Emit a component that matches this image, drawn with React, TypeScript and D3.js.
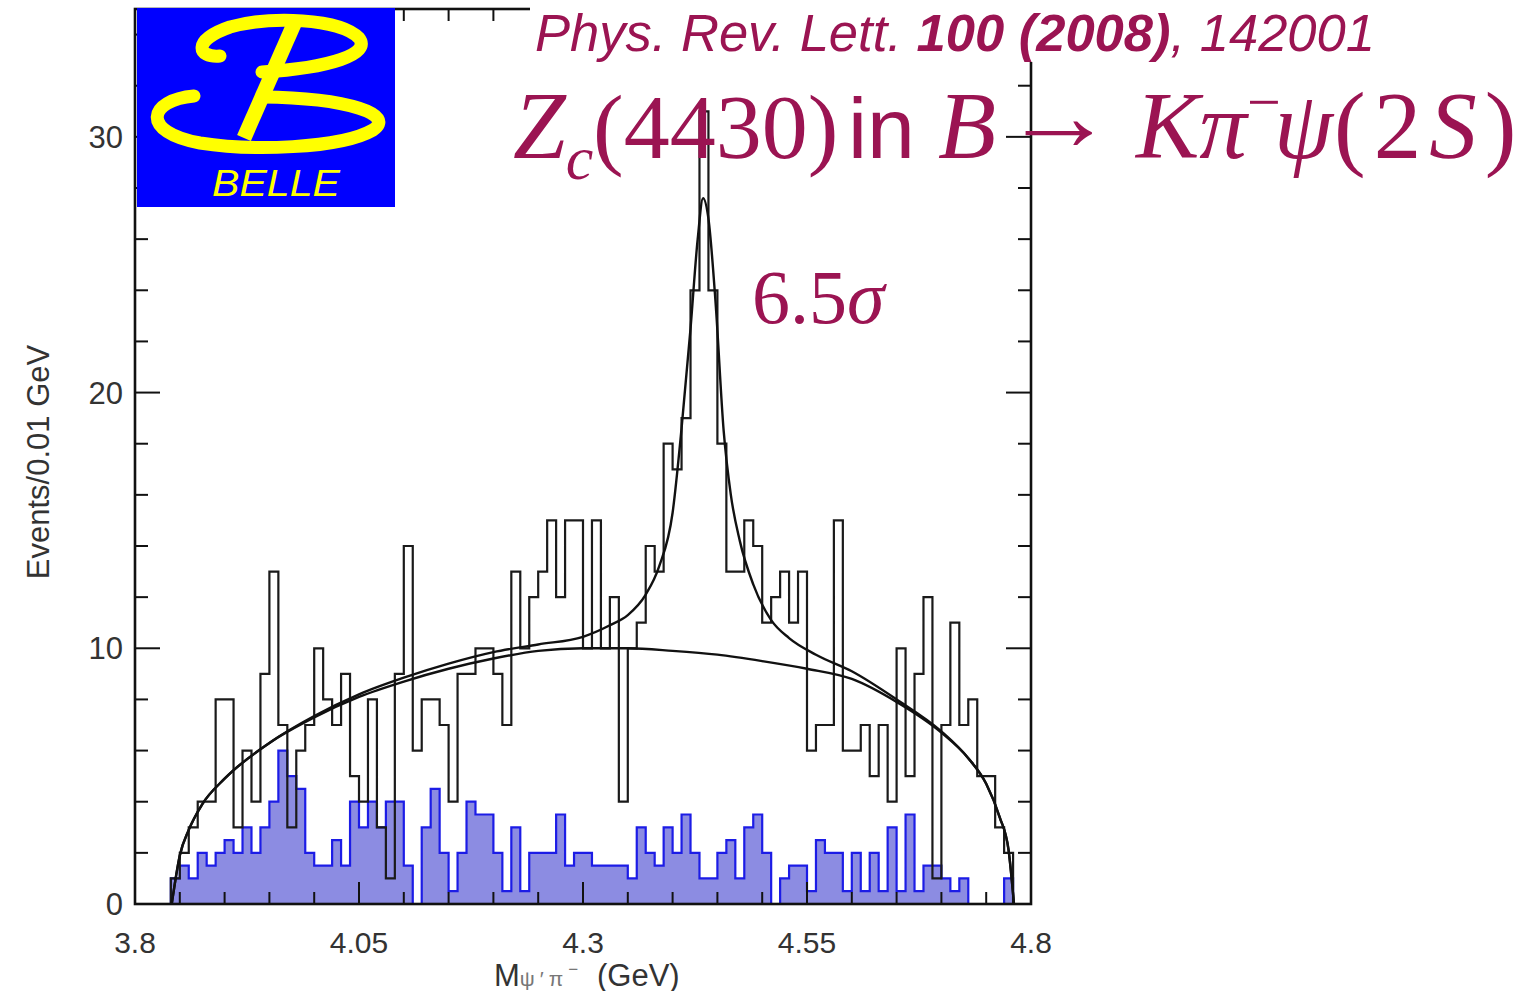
import React from 'react'
import * as d3 from 'd3'

// Belle: M(psi' pi-) spectrum, 0.01 GeV bins from 3.80 to 4.80
const binLow = 3.8
const binWidth = 0.01

const dataCounts = [
    0, 0, 0, 0, 1, 2, 3, 4, 4, 8,
    8, 3, 6, 4, 9, 13, 7, 3, 6, 7,
    10, 8, 7, 9, 5, 4, 8, 3, 1, 9,
    14, 6, 8, 8, 7, 4, 9, 9, 10, 10,
    9, 7, 13, 10, 12, 13, 15, 12, 15, 15,
    10, 15, 10, 12, 4, 10, 11, 14, 13, 18,
    17, 19, 24, 31, 24, 18, 13, 13, 15, 14,
    11, 12, 13, 11, 13, 6, 7, 7, 15, 6,
    6, 7, 5, 7, 4, 10, 5, 9, 12, 1,
    7, 11, 7, 8, 5, 5, 3, 2, 0, 0,
]

const sidebandCounts = [
    0, 0, 0, 0, 1, 1.5, 1, 2, 1.5, 2,
    2.5, 2, 3, 2, 3, 4, 6, 5, 4.5, 2,
    1.5, 1.5, 2.5, 1.5, 4, 3, 4, 3, 4, 4,
    1.5, 0, 3, 4.5, 2, 0.5, 2, 4, 3.5, 3.5,
    2, 0.5, 3, 0.5, 2, 2, 2, 3.5, 1.5, 2,
    2, 1.5, 1.5, 1.5, 1.5, 1, 3, 2, 1.5, 3,
    2, 3.5, 2, 1, 1, 2, 2.5, 1, 3, 3.5,
    2, 0, 1, 1.5, 1.5, 0.5, 2.5, 2, 2, 0.5,
    2, 0.5, 2, 0.5, 3, 0.5, 3.5, 0.5, 1.5, 1.5,
    1, 0.5, 1, 0, 0, 0, 0, 1, 0, 0,
]

// fit curves
const bkgMass = [3.841, 3.85, 3.86, 3.875, 3.9, 3.95, 4.0, 4.05, 4.1, 4.15, 4.2, 4.25, 4.3, 4.35, 4.4, 4.45, 4.5, 4.55, 4.6, 4.65, 4.7, 4.73, 4.75, 4.765, 4.775, 4.781]
const bkgFit = [0, 1.9, 2.9, 3.9, 4.9, 6.3, 7.3, 8.1, 8.7, 9.2, 9.6, 9.9, 10.0, 10.0, 9.9, 9.75, 9.5, 9.2, 8.8, 7.9, 6.7, 5.7, 4.7, 3.4, 2.1, 0]

const totMass = [3.841, 3.85, 3.86, 3.875, 3.9, 3.95, 4.0, 4.05, 4.1, 4.15, 4.2, 4.25, 4.3, 4.33, 4.35, 4.37, 4.385, 4.4, 4.41, 4.42, 4.428, 4.434, 4.44, 4.448, 4.457, 4.465, 4.475, 4.49, 4.51, 4.53, 4.56, 4.6, 4.65, 4.7, 4.73, 4.75, 4.765, 4.775, 4.781]
const totFit = [0, 1.9, 2.9, 3.9, 4.9, 6.3, 7.35, 8.2, 8.85, 9.4, 9.85, 10.15, 10.45, 10.9, 11.3, 12.1, 13.2, 15.3, 18.6, 22.5, 26.0, 27.6, 26.8, 23.5, 18.5, 16.0, 14.2, 12.5, 11.1, 10.4, 9.75, 9.1, 8.0, 6.75, 5.7, 4.7, 3.4, 2.1, 0]

const xTickLabels = [3.8, 4.05, 4.3, 4.55, 4.8]
const yTickLabels = [0, 10, 20, 30]

const W = 1527
const H = 991
const plot = { left: 135, right: 1031, top: 9, bottom: 904 }
const maroon = '#9b1452'
const sans = '"Liberation Sans", Arial, Helvetica, sans-serif'
const serif = '"Liberation Serif", "Times New Roman", serif'

export default function App() {
    const x = d3.scaleLinear().domain([3.8, 4.8]).range([plot.left, plot.right])
    const y = d3.scaleLinear().domain([0, 35]).range([plot.bottom, plot.top])

    const edges = d3.range(dataCounts.length + 1).map(i => binLow + i * binWidth)
    const steps = (vals: number[]) => [
        ...vals.map((v, i) => [edges[i], v] as [number, number]),
        [edges[vals.length], 0] as [number, number],
    ]

    const stepLine = d3.line<[number, number]>()
        .x(d => x(d[0]))
        .y(d => y(d[1]))
        .curve(d3.curveStepAfter)
    const stepArea = d3.area<[number, number]>()
        .x(d => x(d[0]))
        .y0(y(0))
        .y1(d => y(d[1]))
        .curve(d3.curveStepAfter)

    const fitLine = d3.line<[number, number]>()
        .x(d => x(d[0]))
        .y(d => y(d[1]))
        .curve(d3.curveMonotoneX)

    const bkgPts = bkgMass.map((m, i) => [m, bkgFit[i]] as [number, number])
    const totPts = totMass.map((m, i) => [m, totFit[i]] as [number, number])

    const yMinor = d3.range(0, 35, 2)
    const xMinor = d3.range(0, 21).map(i => 3.8 + i * 0.05)

    return (
        <svg width={W} height={H} style={{ position: 'absolute', left: 0, top: 0, background: '#fff' }}>
            {/* sideband background */}
            <path d={stepArea(steps(sidebandCounts)) || ''} fill="#8c8ce2" stroke="none" />
            <path d={stepLine(steps(sidebandCounts)) || ''} fill="none" stroke="#1c1ce6" strokeWidth={2.2} />

            {/* data */}
            <path d={stepLine(steps(dataCounts)) || ''} fill="none" stroke="#1a1a1a" strokeWidth={2.2} />

            {/* fits */}
            <path d={fitLine(bkgPts) || ''} fill="none" stroke="#111" strokeWidth={2.4} />
            <path d={fitLine(totPts) || ''} fill="none" stroke="#111" strokeWidth={2.4} />

            {/* frame and ticks */}
            <rect x={plot.left} y={plot.top} width={plot.right - plot.left} height={plot.bottom - plot.top}
                fill="none" stroke="#111" strokeWidth={2.6} />
            {yMinor.map(v => {
                const len = v % 10 === 0 ? 25 : 13
                return (
                    <g key={'y' + v}>
                        <line x1={plot.left} x2={plot.left + len} y1={y(v)} y2={y(v)} stroke="#111" strokeWidth={2} />
                        <line x1={plot.right} x2={plot.right - len} y1={y(v)} y2={y(v)} stroke="#111" strokeWidth={2} />
                    </g>
                )
            })}
            {xMinor.map((v, i) => {
                const len = i % 5 === 0 ? 22 : 12
                return (
                    <g key={'x' + i}>
                        <line x1={x(v)} x2={x(v)} y1={plot.bottom} y2={plot.bottom - len} stroke="#111" strokeWidth={2} />
                        <line x1={x(v)} x2={x(v)} y1={plot.top} y2={plot.top + len} stroke="#111" strokeWidth={2} />
                    </g>
                )
            })}

            {yTickLabels.map(v => (
                <text key={'yl' + v} x={plot.left - 12} y={y(v)} dy="0.36em" textAnchor="end"
                    fontFamily={sans} fontSize={31} fill="#333">{v}</text>
            ))}
            {xTickLabels.map(v => (
                <text key={'xl' + v} x={x(v)} y={953} textAnchor="middle"
                    fontFamily={sans} fontSize={30} fill="#333">{v}</text>
            ))}
            <text transform="translate(49,462) rotate(-90)" textAnchor="middle"
                fontFamily={sans} fontSize={31} fill="#333">Events/0.01 GeV</text>
            <text x={494} y={986} fontFamily={sans} fontSize={31} fill="#333">
                M<tspan fontSize={21} dy={0} fill="#777" letterSpacing={5}>ψ′π</tspan>
                <tspan fontSize={17} dy={-11} fill="#777">−</tspan>
                <tspan x={597} fontSize={31} dy={11}>(GeV)</tspan>
            </text>

            {/* Belle logo */}
            <rect x={137} y={8} width={258} height={199} fill="#0000ff" />
            <g fill="none" stroke="#ffff00" strokeWidth={13} strokeLinecap="round">
                <path d="M 220 56 C 197 58, 192 40, 230 27 C 270 16, 340 18, 359 38 C 372 54, 330 68, 262 72" />
                <path d="M 194 96 C 148 100, 140 132, 200 143 C 250 151, 340 149, 373 130 C 396 115, 350 98, 262 97" />
                <path d="M 294 24 L 244 138" strokeWidth={15} strokeLinecap="butt" />
            </g>
            <text x={212} y={196} fontFamily={sans} fontStyle="italic" fontSize={37} fill="#ffff00"
                textLength={128} lengthAdjust="spacingAndGlyphs">BELLE</text>

            {/* title */}
            <rect x={530} y={0} width={W - 530} height={62} fill="#fff" />
            <text x={535} y={51} fontFamily={sans} fontStyle="italic" fontSize={51} fill={maroon}
                textLength={840} lengthAdjust="spacingAndGlyphs">
                Phys. Rev. Lett. <tspan fontWeight="bold">100 (2008)</tspan>, 142001
            </text>
            <text y={158} fontFamily={serif} fontSize={95} fill={maroon}>
                <tspan x={513} fontStyle="italic">Z</tspan>
                <tspan fontStyle="italic" fontSize={62} dy={21}>c</tspan>
                <tspan x={593} dy={-21} fontSize={92}>(4430)</tspan>
                <tspan x={848} fontFamily={sans} fontSize={86}>in</tspan>
                <tspan x={938} fontStyle="italic">B</tspan>
            </text>
            <text x={1003} y={150} fontFamily={serif} fontSize={100} fill={maroon}
                textLength={112} lengthAdjust="spacingAndGlyphs">→</text>
            <text y={158} fontFamily={serif} fontSize={95} fill={maroon}>
                <tspan x={1136} fontStyle="italic">Kπ</tspan>
                <tspan fontSize={60} dy={-36}>−</tspan>
                <tspan x={1274} fontStyle="italic" dy={36}>ψ</tspan>
                <tspan x={1334} letterSpacing={8}>(2</tspan>
                <tspan fontStyle="italic" letterSpacing={8}>S</tspan>
                <tspan>)</tspan>
            </text>
            <text x={752} y={323} fontFamily={serif} fontSize={76} fill={maroon}>
                6.5<tspan fontStyle="italic">σ</tspan>
            </text>
        </svg>
    )
}
